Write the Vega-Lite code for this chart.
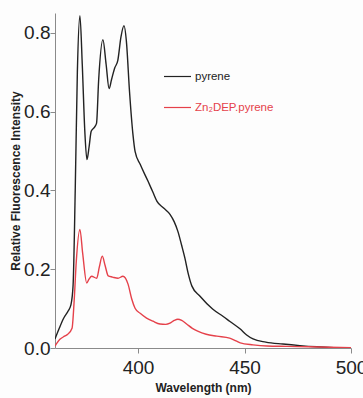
{
  "$schema": "https://vega.github.io/schema/vega-lite/v6.json",
  "width": 296,
  "height": 335,
  "autosize": {"type": "none"},
  "padding": {"left": 55, "top": 13, "right": 12, "bottom": 50},
  "background": "#fdfdfd",
  "config": {
    "view": {"stroke": null},
    "axis": {
      "grid": false,
      "domainColor": "#8a8a8a",
      "tickColor": "#8a8a8a",
      "tickSize": 5,
      "labelFlush": false,
      "labelFont": "Liberation Sans Narrow, Liberation Sans, Arial",
      "labelFontSize": 19,
      "labelColor": "#222222",
      "titleFont": "Liberation Sans, Arial",
      "titleFontSize": 12,
      "titleFontWeight": "bold",
      "titleColor": "#222222"
    }
  },
  "data": {
    "values": [
      {"wl": 361, "I": 0.023, "s": "pyrene"},
      {"wl": 363, "I": 0.05, "s": "pyrene"},
      {"wl": 365, "I": 0.075, "s": "pyrene"},
      {"wl": 367.3, "I": 0.095, "s": "pyrene"},
      {"wl": 368.5, "I": 0.11, "s": "pyrene"},
      {"wl": 369.5, "I": 0.16, "s": "pyrene"},
      {"wl": 370.5, "I": 0.4, "s": "pyrene"},
      {"wl": 371.5, "I": 0.7, "s": "pyrene"},
      {"wl": 372.7, "I": 0.843, "s": "pyrene"},
      {"wl": 373.8, "I": 0.72, "s": "pyrene"},
      {"wl": 375, "I": 0.55, "s": "pyrene"},
      {"wl": 376, "I": 0.478, "s": "pyrene"},
      {"wl": 377, "I": 0.51, "s": "pyrene"},
      {"wl": 378, "I": 0.55, "s": "pyrene"},
      {"wl": 379.5, "I": 0.56, "s": "pyrene"},
      {"wl": 380.5, "I": 0.57, "s": "pyrene"},
      {"wl": 381.5, "I": 0.68, "s": "pyrene"},
      {"wl": 383.5, "I": 0.782, "s": "pyrene"},
      {"wl": 385, "I": 0.72, "s": "pyrene"},
      {"wl": 386.4, "I": 0.658, "s": "pyrene"},
      {"wl": 387.5, "I": 0.68, "s": "pyrene"},
      {"wl": 389, "I": 0.71, "s": "pyrene"},
      {"wl": 390.5, "I": 0.73, "s": "pyrene"},
      {"wl": 392, "I": 0.79, "s": "pyrene"},
      {"wl": 393.4, "I": 0.818, "s": "pyrene"},
      {"wl": 394.5, "I": 0.78, "s": "pyrene"},
      {"wl": 396, "I": 0.65, "s": "pyrene"},
      {"wl": 397.6, "I": 0.542, "s": "pyrene"},
      {"wl": 398.6, "I": 0.499, "s": "pyrene"},
      {"wl": 401, "I": 0.466, "s": "pyrene"},
      {"wl": 404.7, "I": 0.423, "s": "pyrene"},
      {"wl": 407, "I": 0.395, "s": "pyrene"},
      {"wl": 408.9, "I": 0.372, "s": "pyrene"},
      {"wl": 412, "I": 0.355, "s": "pyrene"},
      {"wl": 415, "I": 0.339, "s": "pyrene"},
      {"wl": 417, "I": 0.32, "s": "pyrene"},
      {"wl": 418.7, "I": 0.296, "s": "pyrene"},
      {"wl": 420.5, "I": 0.26, "s": "pyrene"},
      {"wl": 422, "I": 0.228, "s": "pyrene"},
      {"wl": 423.5, "I": 0.19, "s": "pyrene"},
      {"wl": 425.3, "I": 0.157, "s": "pyrene"},
      {"wl": 429, "I": 0.132, "s": "pyrene"},
      {"wl": 435, "I": 0.099, "s": "pyrene"},
      {"wl": 440, "I": 0.08, "s": "pyrene"},
      {"wl": 443, "I": 0.068, "s": "pyrene"},
      {"wl": 448, "I": 0.048, "s": "pyrene"},
      {"wl": 451, "I": 0.033, "s": "pyrene"},
      {"wl": 454, "I": 0.023, "s": "pyrene"},
      {"wl": 460, "I": 0.015, "s": "pyrene"},
      {"wl": 468, "I": 0.01, "s": "pyrene"},
      {"wl": 476, "I": 0.006, "s": "pyrene"},
      {"wl": 484, "I": 0.003, "s": "pyrene"},
      {"wl": 492, "I": 0.001, "s": "pyrene"},
      {"wl": 500, "I": 0.0, "s": "pyrene"},
      {"wl": 361, "I": 0.005, "s": "Zn₂DEP.pyrene"},
      {"wl": 363.3, "I": 0.022, "s": "Zn₂DEP.pyrene"},
      {"wl": 365.5, "I": 0.03, "s": "Zn₂DEP.pyrene"},
      {"wl": 367, "I": 0.035, "s": "Zn₂DEP.pyrene"},
      {"wl": 369, "I": 0.05, "s": "Zn₂DEP.pyrene"},
      {"wl": 370, "I": 0.12, "s": "Zn₂DEP.pyrene"},
      {"wl": 371, "I": 0.22, "s": "Zn₂DEP.pyrene"},
      {"wl": 372.7, "I": 0.301, "s": "Zn₂DEP.pyrene"},
      {"wl": 374, "I": 0.24, "s": "Zn₂DEP.pyrene"},
      {"wl": 375.9, "I": 0.165, "s": "Zn₂DEP.pyrene"},
      {"wl": 377, "I": 0.175, "s": "Zn₂DEP.pyrene"},
      {"wl": 378.2, "I": 0.182, "s": "Zn₂DEP.pyrene"},
      {"wl": 380.6, "I": 0.177, "s": "Zn₂DEP.pyrene"},
      {"wl": 381.8, "I": 0.205, "s": "Zn₂DEP.pyrene"},
      {"wl": 383.2, "I": 0.233, "s": "Zn₂DEP.pyrene"},
      {"wl": 384.5, "I": 0.21, "s": "Zn₂DEP.pyrene"},
      {"wl": 386, "I": 0.183, "s": "Zn₂DEP.pyrene"},
      {"wl": 388, "I": 0.18, "s": "Zn₂DEP.pyrene"},
      {"wl": 390.6, "I": 0.177, "s": "Zn₂DEP.pyrene"},
      {"wl": 392.9, "I": 0.182, "s": "Zn₂DEP.pyrene"},
      {"wl": 395.3, "I": 0.162, "s": "Zn₂DEP.pyrene"},
      {"wl": 397, "I": 0.125, "s": "Zn₂DEP.pyrene"},
      {"wl": 398.6, "I": 0.101, "s": "Zn₂DEP.pyrene"},
      {"wl": 401, "I": 0.088, "s": "Zn₂DEP.pyrene"},
      {"wl": 404, "I": 0.076, "s": "Zn₂DEP.pyrene"},
      {"wl": 407, "I": 0.068, "s": "Zn₂DEP.pyrene"},
      {"wl": 410.3, "I": 0.061, "s": "Zn₂DEP.pyrene"},
      {"wl": 413, "I": 0.06, "s": "Zn₂DEP.pyrene"},
      {"wl": 415, "I": 0.063, "s": "Zn₂DEP.pyrene"},
      {"wl": 417, "I": 0.07, "s": "Zn₂DEP.pyrene"},
      {"wl": 418.7, "I": 0.073, "s": "Zn₂DEP.pyrene"},
      {"wl": 420.5, "I": 0.07, "s": "Zn₂DEP.pyrene"},
      {"wl": 422.8, "I": 0.061, "s": "Zn₂DEP.pyrene"},
      {"wl": 425.5, "I": 0.05, "s": "Zn₂DEP.pyrene"},
      {"wl": 428, "I": 0.043, "s": "Zn₂DEP.pyrene"},
      {"wl": 432, "I": 0.035, "s": "Zn₂DEP.pyrene"},
      {"wl": 437, "I": 0.03, "s": "Zn₂DEP.pyrene"},
      {"wl": 443, "I": 0.025, "s": "Zn₂DEP.pyrene"},
      {"wl": 446, "I": 0.018, "s": "Zn₂DEP.pyrene"},
      {"wl": 448, "I": 0.013, "s": "Zn₂DEP.pyrene"},
      {"wl": 454, "I": 0.008, "s": "Zn₂DEP.pyrene"},
      {"wl": 460.5, "I": 0.005, "s": "Zn₂DEP.pyrene"},
      {"wl": 470, "I": 0.004, "s": "Zn₂DEP.pyrene"},
      {"wl": 480, "I": 0.003, "s": "Zn₂DEP.pyrene"},
      {"wl": 490, "I": 0.002, "s": "Zn₂DEP.pyrene"},
      {"wl": 500, "I": 0.001, "s": "Zn₂DEP.pyrene"}
    ]
  },
  "mark": {"type": "line", "strokeWidth": 1.4, "interpolate": "monotone", "clip": true},
  "encoding": {
    "x": {
      "field": "wl", "type": "quantitative",
      "scale": {"domain": [361, 500], "nice": false, "zero": false},
      "axis": {"title": "Wavelength (nm)", "values": [400, 450, 500], "format": "d", "labelPadding": 5, "titlePadding": 5}
    },
    "y": {
      "field": "I", "type": "quantitative",
      "scale": {"domain": [0, 0.85], "nice": false},
      "axis": {"title": "Relative Fluorescence Intensity", "values": [0, 0.2, 0.4, 0.6, 0.8], "format": ".1f", "labelPadding": 0, "titlePadding": 1}
    },
    "color": {
      "field": "s", "type": "nominal",
      "scale": {"domain": ["pyrene", "Zn₂DEP.pyrene"], "range": ["#222222", "#e5414a"]},
      "legend": {
        "title": null,
        "orient": "none",
        "legendX": 108,
        "legendY": 49,
        "symbolType": "stroke",
        "symbolSize": 729,
        "symbolStrokeWidth": 1.2,
        "rowPadding": 11,
        "labelFont": "Liberation Sans Narrow, Liberation Sans, Arial",
        "labelFontSize": 11.5,
        "labelOffset": 3,
        "encode": {"labels": {"update": {"fill": {"signal": "datum.value == 'pyrene' ? '#222222' : '#e5414a'"}}}}
      }
    }
  }
}
